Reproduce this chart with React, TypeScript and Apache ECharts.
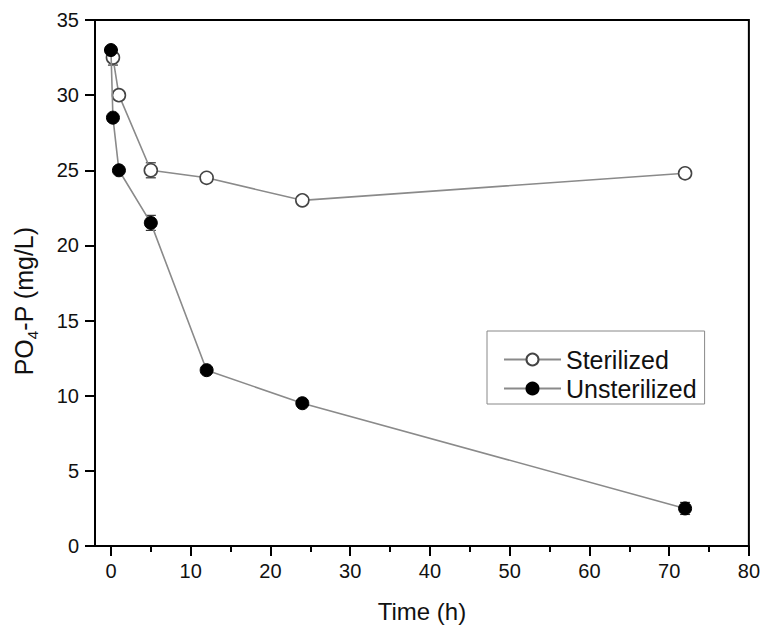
import React, { useEffect, useRef } from "react";
import * as echarts from "echarts";

const sterilizedTime = [0.25, 1, 5, 12, 24, 72];
const sterilizedValue = [32.5, 30, 25, 24.5, 23, 24.8];
const sterilizedErr = [0.5, 0.2, 0.5, 0.2, 0.2, 0.3];

const unsterilizedTime = [0, 0.25, 1, 5, 12, 24, 72];
const unsterilizedValue = [33, 28.5, 25, 21.5, 11.7, 9.5, 2.5];
const unsterilizedErr = [0.2, 0.2, 0.2, 0.5, 0.2, 0.2, 0.4];

const xMajorTicks = [0, 10, 20, 30, 40, 50, 60, 70, 80];
const xMinorTicks = [5, 15, 25, 35, 45, 55, 65, 75];

const FONT = "Liberation Sans, Arial, sans-serif";

function errRender(params: any, api: any) {
  const x = api.value(0);
  const y = api.value(1);
  const e = api.value(2);
  const top = api.coord([x, y + e]);
  const bot = api.coord([x, y - e]);
  const hw = 5;
  const style = { stroke: "#333", lineWidth: 1.2 };
  return {
    type: "group",
    children: [
      { type: "line", shape: { x1: top[0], y1: top[1], x2: bot[0], y2: bot[1] }, style },
      { type: "line", shape: { x1: top[0] - hw, y1: top[1], x2: top[0] + hw, y2: top[1] }, style },
      { type: "line", shape: { x1: bot[0] - hw, y1: bot[1], x2: bot[0] + hw, y2: bot[1] }, style },
    ],
  };
}

export default function App() {
  const ref = useRef<HTMLDivElement>(null);
  useEffect(() => {
    if (!ref.current) return;
    const chart = echarts.init(ref.current, undefined, { renderer: "svg" });
    const sData = sterilizedTime.map((t, i) => [t, sterilizedValue[i]]);
    const uData = unsterilizedTime.map((t, i) => [t, unsterilizedValue[i]]);
    const sErr = sterilizedTime.map((t, i) => [t, sterilizedValue[i], sterilizedErr[i]]);
    const uErr = unsterilizedTime.map((t, i) => [t, unsterilizedValue[i], unsterilizedErr[i]]);
    chart.setOption({
      animation: false,
      backgroundColor: "#fff",
      textStyle: { fontFamily: FONT },
      grid: {
        left: 95,
        right: 14,
        top: 20,
        bottom: 85,
        show: true,
        borderColor: "#000",
        borderWidth: 2,
        backgroundColor: "transparent",
      },
      legend: {
        data: ["Sterilized", "Unsterilized"],
        orient: "vertical",
        left: 487,
        top: 331,
        width: 219,
        itemWidth: 57,
        itemHeight: 15,
        itemGap: 4,
        padding: [16, 8, 3, 16],
        borderColor: "#888",
        borderWidth: 1,
        textStyle: { fontFamily: FONT, fontSize: 25, color: "#111" },
      },
      xAxis: [
        {
          type: "value",
          min: -2,
          max: 80,
          position: "bottom",
          name: "Time (h)",
          nameLocation: "middle",
          nameGap: 53,
          nameTextStyle: { fontFamily: FONT, fontSize: 24, color: "#111" },
          splitLine: { show: false },
          axisLine: { show: true, onZero: false, lineStyle: { color: "#000", width: 2 } },
          axisTick: {
            show: true,
            inside: false,
            length: 10,
            customValues: xMajorTicks,
            lineStyle: { color: "#000", width: 2 },
          },
          axisLabel: {
            customValues: xMajorTicks,
            margin: 15,
            fontFamily: FONT,
            fontSize: 20,
            color: "#111",
          },
        },
        {
          type: "value",
          min: -2,
          max: 80,
          position: "bottom",
          splitLine: { show: false },
          axisLine: { show: false, onZero: false },
          axisTick: {
            show: true,
            inside: false,
            length: 6,
            customValues: xMinorTicks,
            lineStyle: { color: "#000", width: 2 },
          },
          axisLabel: { show: false },
        },
      ],
      yAxis: {
        type: "value",
        min: 0,
        max: 35,
        interval: 5,
        name: "{a|PO}{s|4}{a|-P (mg/L)}",
        nameLocation: "middle",
        nameGap: 55,
        nameTextStyle: {
          fontFamily: FONT,
          color: "#111",
          padding: [0, 36, 0, 0],
          rich: {
            a: { fontFamily: FONT, fontSize: 25, color: "#111" },
            s: { fontFamily: FONT, fontSize: 15, color: "#111", padding: [18, 0, 0, 0] },
          },
        },
        splitLine: { show: false },
        axisLine: { show: true, onZero: false, lineStyle: { color: "#000", width: 2 } },
        axisTick: { show: true, inside: false, length: 10, lineStyle: { color: "#000", width: 2 } },
        axisLabel: { margin: 16, fontFamily: FONT, fontSize: 20, color: "#111" },
      },
      series: [
        {
          type: "custom",
          name: "errS",
          renderItem: errRender,
          data: sErr,
          z: 1,
          silent: true,
        },
        {
          type: "custom",
          name: "errU",
          renderItem: errRender,
          data: uErr,
          z: 1,
          silent: true,
        },
        {
          name: "Sterilized",
          type: "line",
          data: sData,
          symbol: "circle",
          symbolSize: 13,
          z: 3,
          lineStyle: { color: "#8a8a8a", width: 1.6 },
          itemStyle: { color: "#fff", borderColor: "#444", borderWidth: 1.6 },
        },
        {
          name: "Unsterilized",
          type: "line",
          data: uData,
          symbol: "circle",
          symbolSize: 13,
          z: 4,
          lineStyle: { color: "#8a8a8a", width: 1.6 },
          itemStyle: { color: "#000", borderColor: "#000", borderWidth: 1 },
        },
      ],
    });
    return () => chart.dispose();
  }, []);
  return <div ref={ref} style={{ width: 763, height: 631, position: "absolute", left: 0, top: 0 }} />;
}
